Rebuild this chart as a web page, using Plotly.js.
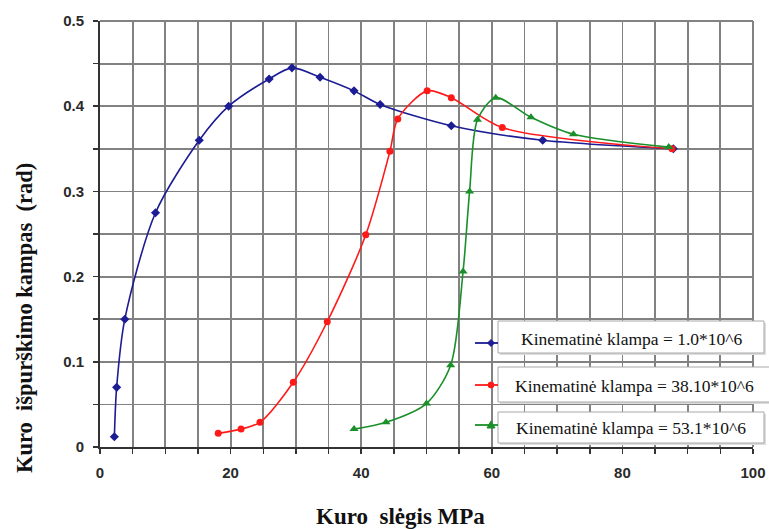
<!DOCTYPE html>
<html>
<head>
<meta charset="utf-8">
<script src="https://cdn.plot.ly/plotly-3.0.1.min.js"></script>
<style>html,body{margin:0;padding:0;background:#fff;}#chart{width:769px;height:529px;}</style>
</head>
<body>
<div id="chart"></div>
<script>
// Data
const seriesNames = [
  "Kinematinė klampa = 1.0*10^6",
  "Kinematinė klampa = 38.10*10^6",
  "Kinematinė klampa = 53.1*10^6"
];
const blueX = [2.2, 2.55, 3.8, 8.5, 15.2, 19.7, 25.9, 29.4, 33.7, 38.9, 42.9, 53.8, 67.8, 87.8];
const blueY = [0.012, 0.07, 0.15, 0.275, 0.36, 0.40, 0.432, 0.445, 0.434, 0.418, 0.402, 0.377, 0.36, 0.35];
const redX = [18.1, 21.6, 24.5, 29.6, 34.8, 40.7, 44.4, 45.6, 50.1, 53.8, 61.6, 87.6];
const redY = [0.016, 0.021, 0.029, 0.076, 0.147, 0.249, 0.347, 0.385, 0.418, 0.410, 0.375, 0.350];
const greenX = [38.9, 43.8, 50.0, 53.7, 55.6, 56.6, 57.8, 60.6, 66.0, 72.5, 87.1];
const greenY = [0.021, 0.029, 0.051, 0.096, 0.206, 0.300, 0.384, 0.410, 0.387, 0.367, 0.352];
const xTickVals = [0, 5, 10, 15, 20, 25, 30, 35, 40, 45, 50, 55, 60, 65, 70, 75, 80, 85, 90, 95, 100];
const xTickText = ["0", "", "", "", "20", "", "", "", "40", "", "", "", "60", "", "", "", "80", "", "", "", "100"];
const yTickVals = [0, 0.05, 0.1, 0.15, 0.2, 0.25, 0.3, 0.35, 0.4, 0.45, 0.5];
const yTickText = ["0", "", "0.1", "", "0.2", "", "0.3", "", "0.4", "", "0.5"];
const xTitle = "Kuro\u00a0 slėgis MPa";
const yTitle = "Kuro\u00a0 išpurškimo kampas\u00a0 (rad)";

const colors = ["#1c1c94", "#ff1a1a", "#1a8f2a"];
const symbols = ["diamond", "circle", "triangle-up"];
const xs = [blueX, redX, greenX];
const ys = [blueY, redY, greenY];

const traces = xs.map((x, i) => ({
  type: "scatter", mode: "lines+markers",
  x: x, y: ys[i], name: seriesNames[i],
  line: {color: colors[i], width: 1.6, shape: "spline", smoothing: 0.8},
  marker: {color: colors[i], symbol: symbols[i], size: i === 2 ? 8 : 7}
}));

// pixel -> paper helpers (plot area: x 100..753, y 21..447)
const L = 100, T = 21, W = 653, H = 426;
const PX = p => (p - L) / W;
const PY = p => (T + H - p) / H;

const gridColor = "#828282";
const serif = "Liberation Serif, Times New Roman, serif";

const shapes = [];
const annotations = [];
// legend boxes: [left, right, top, bottom, textCenterY, sampleY]
const boxes = [
  [498, 764, 321, 353, 339, 343],
  [498, 772, 367, 402, 386, 385],
  [498, 764, 412, 443, 428, 425]
];
boxes.forEach((b, i) => {
  shapes.push({type: "rect", xref: "paper", yref: "paper", x0: PX(b[0] + 2), x1: PX(b[1] + 2), y0: PY(b[3] + 2), y1: PY(b[2] + 2),
    fillcolor: "#dcdcdc", line: {width: 0}, layer: "above"});
  shapes.push({type: "rect", xref: "paper", yref: "paper", x0: PX(b[0]), x1: PX(b[1]), y0: PY(b[3]), y1: PY(b[2]),
    fillcolor: "#ffffff", line: {color: "#a8a8a8", width: 1}, layer: "above"});
  // legend sample line
  shapes.push({type: "line", xref: "paper", yref: "paper", x0: PX(475), x1: PX(498), y0: PY(b[5]), y1: PY(b[5]),
    line: {color: colors[i], width: 1.8}, layer: "above"});
  const cx = 491, cy = b[5];
  let path;
  if (i === 0) {
    path = `M${PX(cx)},${PY(cy - 3.5)} L${PX(cx + 3.5)},${PY(cy)} L${PX(cx)},${PY(cy + 3.5)} L${PX(cx - 3.5)},${PY(cy)} Z`;
    shapes.push({type: "path", xref: "paper", yref: "paper", path: path, fillcolor: colors[i], line: {color: colors[i], width: 1}, layer: "above"});
  } else if (i === 1) {
    shapes.push({type: "circle", xref: "paper", yref: "paper", x0: PX(cx - 3), x1: PX(cx + 3), y0: PY(cy + 3), y1: PY(cy - 3),
      fillcolor: colors[i], line: {color: colors[i], width: 1}, layer: "above"});
  } else {
    path = `M${PX(cx)},${PY(cy - 4)} L${PX(cx + 4)},${PY(cy + 3)} L${PX(cx - 4)},${PY(cy + 3)} Z`;
    shapes.push({type: "path", xref: "paper", yref: "paper", path: path, fillcolor: colors[i], line: {color: colors[i], width: 1}, layer: "above"});
  }
  annotations.push({text: seriesNames[i], xref: "paper", yref: "paper",
    x: PX((b[0] + Math.min(b[1], 766)) / 2 + (i === 1 ? 2 : 0)), y: PY(b[4]), xanchor: "center", yanchor: "middle",
    showarrow: false, font: {family: serif, size: 17.5, color: "#111"}});
});
// frame top/right (gray like the grid)
shapes.push({type: "line", xref: "paper", yref: "paper", x0: 0, x1: 1, y0: 1, y1: 1, line: {color: gridColor, width: 2}, layer: "below"});
shapes.push({type: "line", xref: "paper", yref: "paper", x0: 1, x1: 1, y0: 0, y1: 1, line: {color: gridColor, width: 2}, layer: "below"});

annotations.push({text: xTitle, xref: "paper", yref: "paper", x: PX(400), y: PY(516),
  xanchor: "center", yanchor: "middle", showarrow: false,
  font: {family: serif, size: 23, color: "#111", weight: "bold"}});
annotations.push({text: yTitle, xref: "paper", yref: "paper", x: PX(24), y: PY(318),
  xanchor: "center", yanchor: "middle", showarrow: false, textangle: -90,
  font: {family: serif, size: 22.5, color: "#111", weight: "bold"}});

const tickFont = {family: "Arial, Liberation Sans, sans-serif", size: 15, color: "#2a2a2a", weight: "bold"};
const layout = {
  width: 769, height: 529,
  margin: {l: L, r: 769 - L - W, t: T, b: 529 - T - H},
  paper_bgcolor: "#ffffff", plot_bgcolor: "#ffffff",
  showlegend: false,
  xaxis: {
    range: [0, 100], tickmode: "array", tickvals: xTickVals, ticktext: xTickText,
    showgrid: true, gridcolor: gridColor, gridwidth: 1.8,
    ticks: "outside", ticklen: 5, tickcolor: "#333", tickwidth: 1.5, ticklabelstandoff: 6,
    showline: true, linecolor: "#333", linewidth: 2, zeroline: false,
    tickfont: tickFont
  },
  yaxis: {
    range: [0, 0.5], tickmode: "array", tickvals: yTickVals, ticktext: yTickText,
    showgrid: true, gridcolor: gridColor, gridwidth: 1.8,
    ticks: "outside", ticklen: 5, tickcolor: "#333", tickwidth: 1.5, ticklabelstandoff: 6,
    showline: true, linecolor: "#333", linewidth: 2, zeroline: false,
    tickfont: tickFont
  },
  shapes: shapes,
  annotations: annotations
};

Plotly.newPlot("chart", traces, layout, {staticPlot: true, displayModeBar: false});
</script>
</body>
</html>
